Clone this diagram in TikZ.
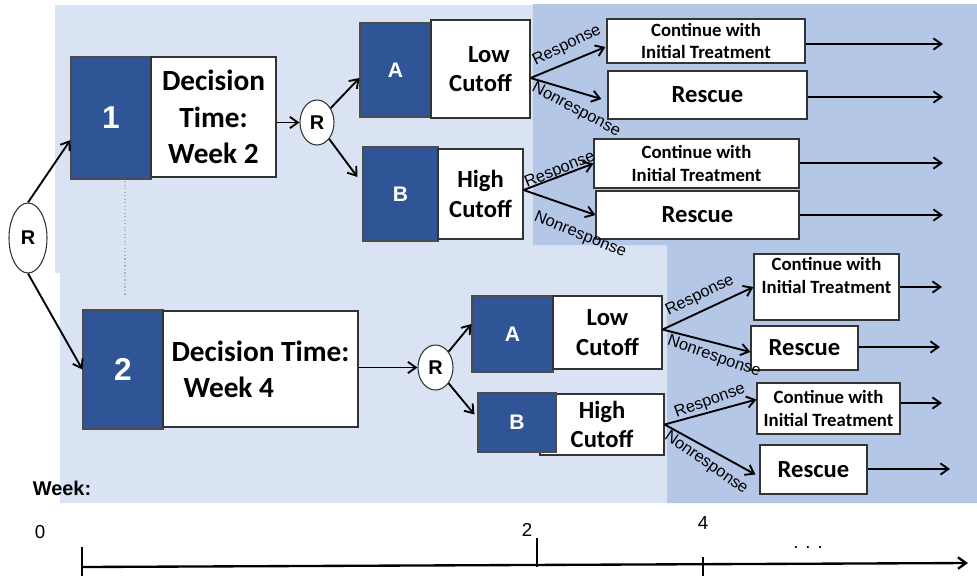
\documentclass[tikz,border=0pt]{standalone}
\usepackage{fontspec}
\setmainfont{Liberation Sans}
\newfontfamily\calfont{Carlito}
\usetikzlibrary{arrows.meta,calc,shapes.geometric}
\definecolor{lightbg}{HTML}{DAE3F3}
\definecolor{darkbg}{HTML}{B4C7E7}
\definecolor{armblue}{HTML}{2F5597}
\tikzset{
  wh/.style 2 args={minimum width=#1*0.03cm,minimum height=#2*0.03cm},
  armbox/.style={draw=black!70,fill=armblue,text=white,inner sep=0pt,line width=1pt,
    font=\bfseries\fontsize{18}{20}\selectfont},
  whitebox/.style={draw=black!80,fill=white,align=center,inner sep=0pt,line width=1pt},
  rnode/.style={ellipse,draw=black!80,fill=white,inner sep=0pt,line width=0.9pt,
    font=\bfseries\fontsize{17}{19}\selectfont},
  numfont/.style={font=\bfseries\fontsize{27}{30}\selectfont},
  decfont/.style={font=\calfont\bfseries\fontsize{25}{31}\selectfont},
  cutfont/.style={font=\calfont\bfseries\fontsize{21}{25}\selectfont},
  contfont/.style={font=\calfont\bfseries\fontsize{16}{19.5}\selectfont},
  rescfont/.style={font=\calfont\bfseries\fontsize{21}{25}\selectfont},
  resp/.style={inner sep=0pt,font=\fontsize{14}{16}\selectfont},
  arr/.style={->,line width=1.6pt},
  >={Straight Barb[length=2.4mm,width=3.4mm]}
}
\begin{document}
\begin{tikzpicture}[x=0.03cm,y=-0.03cm]
\useasboundingbox (0,0) rectangle (977,575);
% backgrounds
\fill[lightbg] (55,5) -- (533,5) -- (533,245) -- (667,245) -- (667,503) -- (60,503) -- (60,273) -- (55,273) -- cycle;
\fill[darkbg] (533,4) -- (977,4) -- (977,503) -- (667,503) -- (667,245) -- (533,245) -- cycle;
\draw[gray!60,dotted,line width=1pt] (125,181) -- (125,296);
%
% decision time week 2
%
\node[rnode,wh={38}{70}] (r0) at (28,238) {R};
\node[armbox,numfont,wh={80}{122}] (n1) at (111,118) {1};
\node[whitebox,decfont,wh={125}{120}] (d1) at (213.5,117) {Decision\\Time:\\Week 2};
\node[rnode,wh={34}{45}] (r1) at (317,122.5) {R};
\node[armbox,wh={71}{94}] (a1) at (395.5,70) {A};
\node[whitebox,cutfont,wh={99}{98}] (lc1) at (480.5,69) {\hspace*{0.5cm}Low\\Cutoff};
\node[armbox,wh={75}{94}] (b1) at (400.5,194) {B};
\node[whitebox,cutfont,wh={85}{90}] (hc1) at (480.5,194) {High\\Cutoff};
\node[whitebox,contfont,wh={198}{44}] (c1) at (706,41) {Continue with\\Initial Treatment};
\node[whitebox,rescfont,wh={199}{48}] (s1) at (707.5,95) {Rescue};
\node[whitebox,contfont,wh={205}{49}] (c2) at (696.5,163.5) {Continue with\\Initial Treatment};
\node[whitebox,rescfont,wh={203}{48}] (s2) at (697.5,215) {Rescue};
%
\draw[arr] (r0.north) -- ($(n1.west)+(0,22)$);
\draw[arr] (r1.west -| d1.east) -- (r1.west);
\draw[arr] (r1) -- ($(a1.west)+(0,8)$);
\draw[arr] (r1) -- ($(b1.west)+(-5,-17)$);
\draw[arr] ($(lc1.east)+(0,9)$) -- ($(c1.west)+(-1,6)$);
\draw[arr] ($(lc1.east)+(0,9)$) -- ($(s1.west)+(-6,4)$);
\draw[arr] ($(hc1.east)+(0,-4)$) -- (c2.west);
\draw[arr] ($(hc1.east)+(0,-4)$) -- (s2.west);
\node[resp,rotate=26] (l1) at (567,46) {Response};
\node[resp,rotate=-28] (m1) at (576,110) {Nonresponse};
\node[resp,rotate=22] (l2) at (560,170) {Response};
\node[resp,rotate=-22] (m2) at (580,235) {Nonresponse};
%
\coordinate (e1) at (943,44);
\coordinate (e2) at (943,97);
\coordinate (e3) at (943,163);
\coordinate (e4) at (943,215);
\draw[arr] (c1.east |- e1) -- (e1);
\draw[arr] (s1.east |- e2) -- (e2);
\draw[arr] (c2.east |- e3) -- (e3);
\draw[arr] (s2.east |- e4) -- (e4);
%
% decision time week 4
%
\node[armbox,numfont,wh={80}{119}] (n2) at (123,369.5) {2};
\node[whitebox,decfont,wh={195}{116},align=left] (d2) at (260.5,369) {Decision Time:\\\hspace*{0.36cm}Week 4};
\node[rnode,wh={35}{45}] (r2) at (435.5,367.5) {R};
\node[armbox,wh={81}{76}] (a2) at (512.5,334) {A};
\node[whitebox,cutfont,wh={109}{73}] (lc2) at (607.5,332.5) {Low\\Cutoff};
\node[whitebox,cutfont,wh={124}{61}] (hc2) at (602,424.5) {High\\Cutoff};
\node[armbox,wh={78}{59}] (b2) at (517,422.5) {B};
\node[whitebox,contfont,wh={145}{66}] (c3) at (826.5,287) {Continue with\\Initial Treatment\\~};
\node[whitebox,rescfont,wh={107}{44}] (s3) at (804.5,348) {Rescue};
\node[whitebox,contfont,wh={143}{51}] (c4) at (828.5,408.5) {Continue with\\Initial Treatment};
\node[whitebox,rescfont,wh={107}{49}] (s4) at (813.5,469.5) {Rescue};
%
\draw[arr] (r0.south) -- (n2.west);
\draw[arr] (r2.west -| d2.east) -- (r2.west);
\draw[arr] (r2) -- ($(a2.west)+(0,-10)$);
\draw[arr] (r2) -- ($(b2.west)+(-3,-8)$);
\draw[arr] ($(lc2.east)+(0,-3)$) -- (c3.west);
\draw[arr] ($(lc2.east)+(0,-3)$) -- ($(s3.west)+(0,4)$);
\draw[arr] (hc2.east) -- ($(c4.west)+(0,-9)$);
\draw[arr] (hc2.east) -- ($(s4.west)+(-4,5)$);
\node[resp,rotate=26] (l3) at (700,296) {Response};
\node[resp,rotate=-19] (m3) at (714,357) {Nonresponse};
\node[resp,rotate=20] (l4) at (710,401) {Response};
\node[resp,rotate=-35] (m4) at (706,463) {Nonresponse};
%
\coordinate (e5) at (942,287);
\coordinate (e6) at (940,347);
\coordinate (e7) at (942,403);
\coordinate (e8) at (950,469);
\draw[arr] (c3.east |- e5) -- (e5);
\draw[arr] (s3.east |- e6) -- (e6);
\draw[arr] (c4.east |- e7) -- (e7);
\draw[arr] (s4.east |- e8) -- (e8);
%
% week axis
%
\node[font=\bfseries\fontsize{17}{19}\selectfont] (wk) at (62,488) {Week:};
\coordinate (t0) at (82,567);
\coordinate (tend) at (968,563);
\draw[line width=2pt,->] (t0) -- (tend);
\draw[line width=2pt] (82,547) -- (82,578);
\draw[line width=2pt] (537,538) -- (537,567);
\draw[line width=2pt] (703,557) -- (703,578);
\node[font=\fontsize{16}{18}\selectfont] (w0) at (40,532) {0};
\node[font=\fontsize{16}{18}\selectfont] (w2) at (527,530) {2};
\node[font=\fontsize{16}{18}\selectfont] (w4) at (703,523) {4};
\node[font=\fontsize{16}{18}\selectfont] (dots) at (808,547) {. . .};
\end{tikzpicture}
\end{document}
